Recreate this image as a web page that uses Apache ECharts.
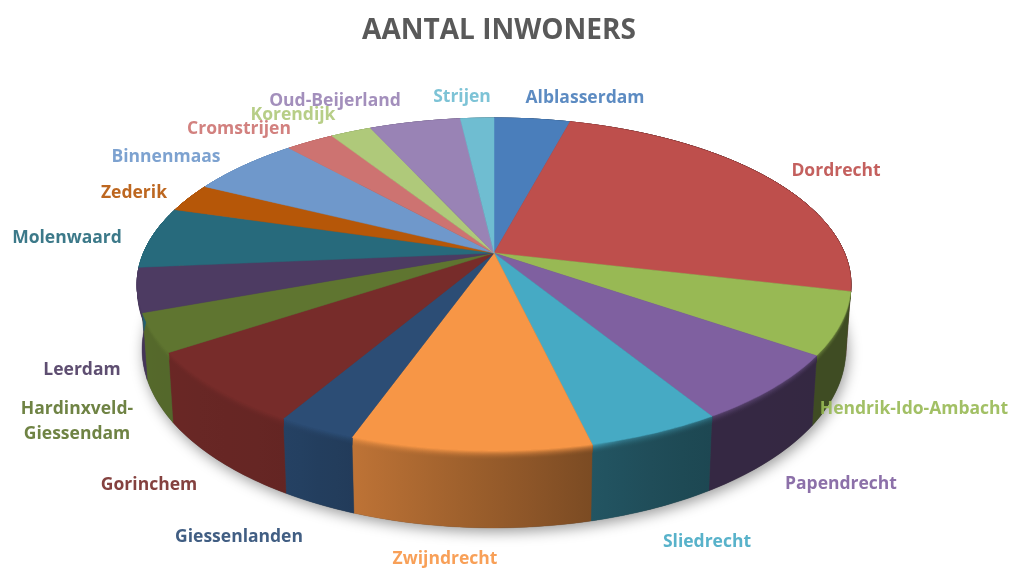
<!DOCTYPE html>
<html><head><meta charset="utf-8">
<style>html,body{margin:0;padding:0;background:#fff}#c{width:1014px;height:568px;filter:blur(0.5px)}</style>
<script src="https://cdn.jsdelivr.net/npm/echarts@6/dist/echarts.min.js"></script>
</head><body><div id="c"></div>
<script>
// ---- data ----
const categories = ['Alblasserdam','Dordrecht','Hendrik-Ido-Ambacht','Papendrecht','Sliedrecht','Zwijndrecht','Giessenlanden','Gorinchem','Hardinxveld-Giessendam','Leerdam','Molenwaard','Zederik','Binnenmaas','Cromstrijen','Korendijk','Oud-Beijerland','Strijen'];
const inhabitants = [20000,119000,29000,32000,24500,44000,14500,35000,18000,20700,29000,13600,29000,12700,10800,24000,8800];
const sliceColors = ['#4A7EBB','#BE4F4C','#98B954','#7F60A0','#46AAC4','#F79646','#2C4D75','#772C2A','#5F7530','#4D3B62','#276A7C','#B65708','#6F98CB','#CD7371','#AFC97A','#9983B5','#6FBDD1'];
const labelText = {'Hardinxveld-Giessendam':'Hardinxveld-\nGiessendam'};
const labelCenters = {
 'Alblasserdam':[585,98.5],'Dordrecht':[836,171.5],'Hendrik-Ido-Ambacht':[914,409.5],'Papendrecht':[841,484.5],
 'Sliedrecht':[707,542.5],'Zwijndrecht':[445,559],'Giessenlanden':[239,537.5],'Gorinchem':[149,485.5],
 'Hardinxveld-Giessendam':[77,422],'Leerdam':[82,370.5],'Molenwaard':[67,238.5],'Zederik':[134,193.5],
 'Binnenmaas':[166,157.5],'Cromstrijen':[239,129.5],'Korendijk':[293,115.5],'Oud-Beijerland':[335,101.5],'Strijen':[462,97.5]};

// ---- perspective projection of the disc ----
const CX=494, CY=253, A=350.5, B=160.5, K=0.189, DEPTH=77;
function topPt(t){const u=Math.sin(t),v=Math.cos(t),d=1+K*v;return [CX+A*u/d,CY-B*v/d];}
function botPt(t,frac){const p=topPt(t),d=1+K*Math.cos(t),f=frac===undefined?1:frac;
  return [CX+(p[0]-CX)*(1-0.014*f),p[1]+f*DEPTH*(1-K)/d];}
const total=inhabitants.reduce((a,b)=>a+b,0);
const cum=[0];inhabitants.forEach((v,i)=>cum.push(cum[i]+v));
const ang=i=>cum[i]/total*2*Math.PI;
function arc(i,fn){const a=ang(i),b=ang(i+1),n=Math.max(2,Math.ceil((b-a)/(Math.PI/180))),o=[];
  for(let k=0;k<=n;k++)o.push(fn(a+(b-a)*k/n));return o;}
function rgb(h){return [1,3,5].map(i=>parseInt(h.substr(i,2),16));}
function shade(x){ // light falloff along the wall
  const P=[[130,.9],[280,.85],[350,.77],[590,.5],[700,.42],[860,.41]];
  if(x<=P[0][0])return P[0][1];
  for(let i=1;i<P.length;i++)if(x<=P[i][0]){const r=(x-P[i-1][0])/(P[i][0]-P[i-1][0]);return P[i-1][1]+r*(P[i][1]-P[i-1][1]);}
  return P[P.length-1][1];
}
function wallFill(col,x0,x1,lift){
  const c=rgb(col),stops=[];
  if(x1-x0<1)x1=x0+1;
  for(let s=0;s<=4;s++){const x=x0+(x1-x0)*s/4;let f=shade(x);f=f+(1-f)*lift*(x<600?1:.5);
    stops.push({offset:s/4,color:`rgb(${c.map(q=>Math.round(q*f)).join(',')})`});}
  return new echarts.graphic.LinearGradient(x0,0,x1,0,stops,true);
}
function wallItem(params){
  const i=params.dataIndex,col=sliceColors[i],kids=[];
  const poly=(f0,f1,lift)=>{
    const up=arc(i,t=>f0===0?topPt(t):botPt(t,f0)),dn=arc(i,t=>botPt(t,f1)).reverse();
    const xs=up.concat(dn).map(p=>p[0]),x0=Math.min(...xs),x1=Math.max(...xs);
    const fill=wallFill(col,x0,x1,lift);
    kids.push({type:'polygon',shape:{points:up.concat(dn)},silent:true,style:{fill:fill,stroke:fill,lineWidth:.4}});
  };
  poly(0,1,0);
  const N=8,SPAN=.11;
  for(let s=N-1;s>=0;s--)poly(0,SPAN*(s+1)/N,Math.pow(1-s/N,2)*.8);
  return {type:'group',children:kids};
}
function topItem(params){
  const i=params.dataIndex,pts=[[CX,CY]].concat(arc(i,topPt));
  return {type:'polygon',shape:{points:pts},silent:true,style:{fill:sliceColors[i],stroke:sliceColors[i],lineWidth:.5}};
}
function labelItem(params,api){
  const name=categories[params.dataIndex],p=labelCenters[name];
  return {type:'text',x:p[0],y:p[1],silent:true,style:{text:labelText[name]||name,align:'center',verticalAlign:'middle',
    fill:sliceColors[params.dataIndex],font:'700 17.5px "Open Sans"',lineHeight:25,opacity:.9}};
}
function baseItem(){
  const pts=[];for(let d=0;d<360;d+=2)pts.push(botPt(d*Math.PI/180));
  return {type:'polygon',shape:{points:pts},silent:true,style:{fill:'#444',shadowBlur:14,shadowColor:'rgba(0,0,0,0.4)',shadowOffsetY:4,shadowOffsetX:2}};
}
const rows=categories.map((n,i)=>({name:n,value:inhabitants[i]}));
const chart=echarts.init(document.getElementById('c'),null,{renderer:'canvas'});
chart.setOption({
  animation:false,backgroundColor:'#fff',
  title:{text:'AANTAL INWONERS',top:12,left:494,textAlign:'center',
    textStyle:{fontFamily:'Open Sans',fontWeight:700,fontSize:28,color:'#595959'}},
  series:[
   {type:'custom',coordinateSystem:'none',z:1,data:[1],renderItem:baseItem,silent:true},
   {type:'custom',coordinateSystem:'none',z:2,data:rows,renderItem:wallItem,silent:true},
   {type:'custom',coordinateSystem:'none',z:3,data:rows,renderItem:topItem,silent:true},
   {type:'custom',coordinateSystem:'none',z:4,data:rows,renderItem:labelItem,silent:true}
  ]
});
</script></body></html>
